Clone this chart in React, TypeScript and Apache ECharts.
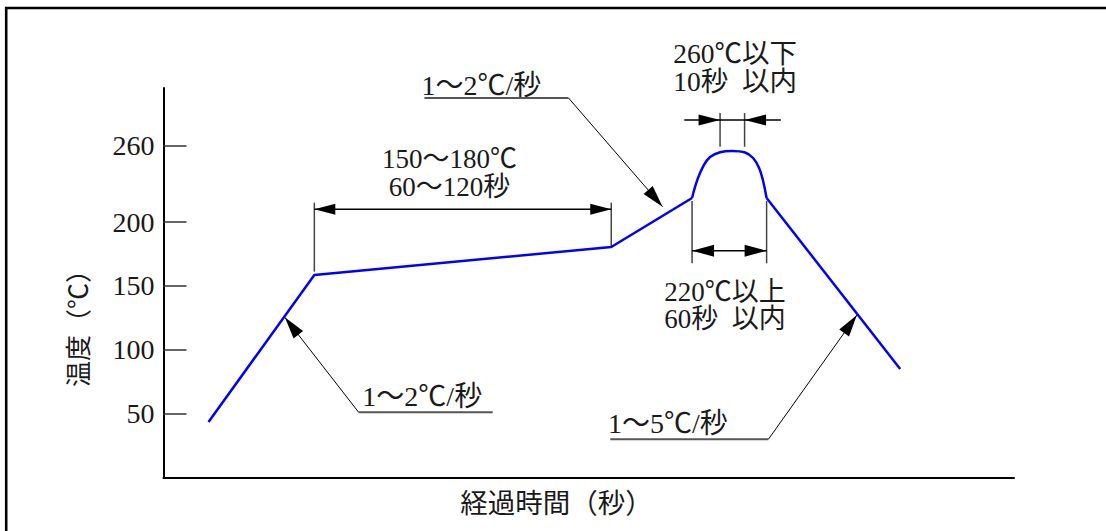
import React, { useEffect, useRef } from 'react';
import * as echarts from 'echarts';

const FONT_FAMILY = '"Liberation Serif", "Noto Sans CJK JP", serif';

// Reflow profile curve (time in seconds, temperature in ℃)
const RAMP_TIME = [18, 60.3, 179, 211.3];
const RAMP_TEMP = [43.5, 158.6, 180.5, 218.9];
const PEAK_TIME = [211.3, 213.4, 215.8, 218.5, 222.5, 227.3, 232.5, 235.7, 238.1, 239.7, 241.1];
const PEAK_TEMP = [218.9, 233.0, 243.9, 251.0, 254.7, 255.7, 254.5, 250.2, 242.4, 232.2, 218.9];
const COOL_TIME = [241.1, 294.5];
const COOL_TEMP = [218.9, 85.0];

const Y_TICKS = [50, 100, 150, 200, 260];

// annotations (data coordinates)
const PREHEAT_LABELS = ['150～180℃', '60～120秒'];
const PREHEAT_LABEL_POS = [114.3, 249.0, 227.9]; // t, v line1, v line2
const PREHEAT_DIM = [210.0, 215.2]; // dimension level, extension top

const PEAK_TOP_LABELS = ['260℃以下', '10秒\u00a0\u00a0以内'];
const PEAK_TOP_LABEL_POS = [228.5, 331.9, 309.9];
const PEAK_TOP_EXT = [222.5, 232.3]; // extension line times
const PEAK_TOP_DIM = [279.9, 259.0, 285.4, 208.2, 246.8]; // level, ext bottom, ext top, line start, line end

const PEAK_BOT_LABELS = ['220℃以上', '60秒\u00a0\u00a0以内'];
const PEAK_BOT_LABEL_POS = [224.5, 145.5, 124.1];
const PEAK_BOT_DIM = [177.6, 216.5, 167.7]; // level, ext top, ext bottom

const SLOPE_LABELS = ['1～2℃/秒', '1～2℃/秒', '1～5℃/秒'];
// text t, text v, underline v, underline t start, underline t end, leader from t, arrow tip t, arrow tip v
const SLOPE_UPPER = [103.1, 307.3, 297.2, 104.3, 161.9, 161.9, 199.5, 212.1];
const SLOPE_LEFT = [79.5, 63.8, 51.1, 78.0, 131.6, 78.0, 48.5, 125.4];
const SLOPE_RIGHT = [177.7, 42.4, 29.9, 178.6, 241.8, 241.8, 277.2, 127.2];

const X_TITLE = '経過時間（秒）';
const Y_TITLE = '温度（℃）';

const zip = (a: number[], b: number[]) => a.map((x, i) => [x, b[i]]);

type P = number[];

function seg(a: P, b: P, color: string, w: number) {
  return {
    type: 'line',
    silent: true,
    shape: { x1: a[0], y1: a[1], x2: b[0], y2: b[1] },
    style: { stroke: color, lineWidth: w },
  };
}

function head(tip: P, from: P, L = 21, W = 5.5) {
  const dx = tip[0] - from[0];
  const dy = tip[1] - from[1];
  const len = Math.hypot(dx, dy) || 1;
  const ux = dx / len;
  const uy = dy / len;
  const bx = tip[0] - ux * L;
  const by = tip[1] - uy * L;
  return {
    type: 'polygon',
    silent: true,
    shape: {
      points: [
        [tip[0], tip[1]],
        [bx - uy * W, by + ux * W],
        [bx + uy * W, by - ux * W],
      ],
    },
    style: { fill: '#000' },
  };
}

function label(p: P, text: string, align: string, size = 28, rotation = 0, lineHeight = 28) {
  return {
    type: 'text',
    silent: true,
    x: p[0],
    y: p[1],
    rotation,
    style: {
      text,
      font: `${size}px ${FONT_FAMILY}`,
      lineHeight,
      fill: '#1a1a1a',
      align,
      verticalAlign: 'middle',
      textAlign: align,
      textVerticalAlign: 'middle',
    },
  };
}

// two-line centred label: one text element whose line pitch follows the two anchor rows
function label2(px: (t: number, v: number) => P, pos: number[], lines: string[], size = 27) {
  const a = px(pos[0], pos[1]);
  const b = px(pos[0], pos[2]);
  const pitch = Math.max(Math.abs(b[1] - a[1]), size + 0.3);
  return label([a[0], (a[1] + b[1]) / 2], lines.join('\n'), 'center', size, 0, pitch);
}

function buildGraphics(px: (t: number, v: number) => P) {
  const els: any[] = [];
  // outer frame
  els.push({
    type: 'rect',
    silent: true,
    shape: { x: 6.2, y: 8, width: 1300, height: 700 },
    style: { fill: 'none', stroke: '#000', lineWidth: 2.6 },
  });

  // preheat dimension
  const tB = RAMP_TIME[1];
  const vB = RAMP_TEMP[1];
  const tC = RAMP_TIME[2];
  const vC = RAMP_TEMP[2];
  els.push(seg(px(tB, vB + 2.6), px(tB, PREHEAT_DIM[1]), '#444', 1.5));
  els.push(seg(px(tC, vC), px(tC, PREHEAT_DIM[1]), '#444', 1.5));
  const pl = px(tB, PREHEAT_DIM[0]);
  const pr = px(tC, PREHEAT_DIM[0]);
  els.push(seg(pl, pr, '#000', 1.5));
  els.push(head(pl, pr));
  els.push(head(pr, pl));
  els.push(label2(px, PREHEAT_LABEL_POS, PREHEAT_LABELS, 27));

  // peak top dimension (10 s)
  PEAK_TOP_EXT.forEach((t) => {
    els.push(seg(px(t, PEAK_TOP_DIM[1]), px(t, PEAK_TOP_DIM[2]), '#444', 1.5));
  });
  const ts = px(PEAK_TOP_DIM[3], PEAK_TOP_DIM[0]);
  const te = px(PEAK_TOP_DIM[4], PEAK_TOP_DIM[0]);
  els.push(seg(ts, te, '#000', 1.5));
  els.push(head(px(PEAK_TOP_EXT[0], PEAK_TOP_DIM[0]), ts, 21.5, 5.5));
  els.push(head(px(PEAK_TOP_EXT[1], PEAK_TOP_DIM[0]), te, 21.5, 5.5));
  els.push(label2(px, PEAK_TOP_LABEL_POS, PEAK_TOP_LABELS, 27.5));

  // peak bottom dimension (60 s above 220℃)
  const tD = PEAK_TIME[0];
  const tE = PEAK_TIME[PEAK_TIME.length - 1];
  els.push(seg(px(tD, PEAK_BOT_DIM[1]), px(tD, PEAK_BOT_DIM[2]), '#444', 1.5));
  els.push(seg(px(tE, PEAK_BOT_DIM[1]), px(tE, PEAK_BOT_DIM[2]), '#444', 1.5));
  const bl = px(tD, PEAK_BOT_DIM[0]);
  const br = px(tE, PEAK_BOT_DIM[0]);
  els.push(seg(bl, br, '#000', 1.5));
  els.push(head(bl, br, 22, 6));
  els.push(head(br, bl, 22, 6));
  els.push(label2(px, PEAK_BOT_LABEL_POS, PEAK_BOT_LABELS, 27));

  // slope leaders
  [SLOPE_UPPER, SLOPE_LEFT, SLOPE_RIGHT].forEach((s, i) => {
    els.push(label(px(s[0], s[1]), SLOPE_LABELS[i], 'left'));
    els.push(seg(px(s[3], s[2]), px(s[4], s[2]), '#555', 2));
    const from = px(s[5], s[2]);
    const tip = px(s[6], s[7]);
    els.push(seg(from, tip, '#000', 1));
    els.push(head(tip, from, 22, 6));
  });

  // axis titles
  els.push(label([556.5, 503], X_TITLE, 'center', 27.5));
  els.push(label([79, 322], Y_TITLE, 'center', 26, Math.PI / 2));
  return els;
}

export default function App() {
  const ref = useRef<HTMLDivElement>(null);
  useEffect(() => {
    const el = ref.current;
    if (!el) return;
    const chart = echarts.init(el, null, { renderer: 'svg' });
    const option: any = {
      animation: false,
      backgroundColor: '#fff',
      grid: { left: 163.5, right: 92, top: 88, bottom: 53.5, outerBoundsMode: 'none' },
      xAxis: {
        type: 'value',
        min: 0,
        max: 340,
        axisLine: { show: true, lineStyle: { color: '#000', width: 2 } },
        axisTick: { show: false },
        axisLabel: { show: false },
        splitLine: { show: false },
      },
      yAxis: {
        type: 'value',
        min: 0,
        max: 305,
        axisLine: { show: true, onZero: false, lineStyle: { color: '#000', width: 2 } },
        axisTick: {
          show: true,
          inside: true,
          length: 23,
          customValues: Y_TICKS,
          lineStyle: { color: '#333', width: 1.5 },
        },
        axisLabel: {
          show: true,
          customValues: Y_TICKS,
          margin: 9,
          fontSize: 28,
          fontFamily: FONT_FAMILY,
          color: '#1a1a1a',
        },
        splitLine: { show: false },
      },
      series: [
        {
          type: 'line',
          data: zip(RAMP_TIME, RAMP_TEMP),
          symbol: 'none',
          lineStyle: { color: '#0000ff', width: 2.5 },
          silent: true,
        },
        {
          type: 'line',
          data: zip(PEAK_TIME, PEAK_TEMP),
          symbol: 'none',
          smooth: 0.4,
          lineStyle: { color: '#0000ff', width: 2.5 },
          silent: true,
        },
        {
          type: 'line',
          data: zip(COOL_TIME, COOL_TEMP),
          symbol: 'none',
          lineStyle: { color: '#0000ff', width: 2.5 },
          silent: true,
        },
      ],
    };
    chart.setOption(option);
    const px = (t: number, v: number) =>
      chart.convertToPixel({ gridIndex: 0 }, [t, v]) as unknown as number[];
    chart.setOption({ graphic: { elements: buildGraphics(px) } });
    return () => chart.dispose();
  }, []);
  return (
    <div
      ref={ref}
      style={{ position: 'fixed', left: 0, top: 0, width: 1106, height: 531, background: '#fff' }}
    />
  );
}
